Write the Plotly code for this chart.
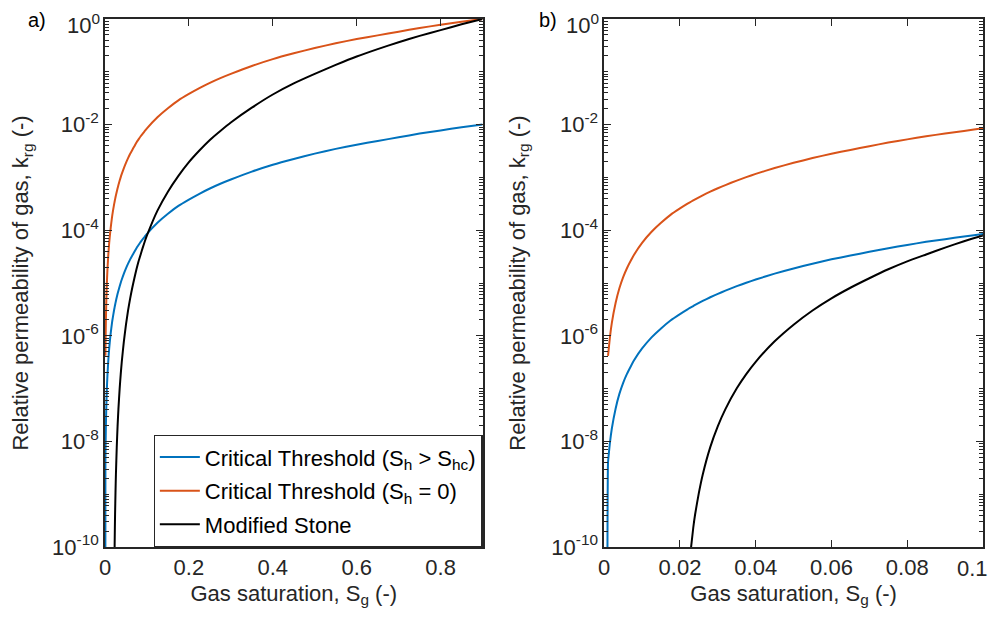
import plotly.graph_objects as go
from plotly.subplots import make_subplots

# Gas saturation samples (shared by both panels)
sg = [0.0008, 0.001, 0.0012, 0.0015, 0.002, 0.003, 0.004, 0.005, 0.006, 0.007, 0.008,
      0.01, 0.0125, 0.015, 0.0175, 0.02, 0.022, 0.0225, 0.0235, 0.024, 0.025, 0.026,
      0.028, 0.03, 0.032, 0.035, 0.0375, 0.04, 0.045, 0.05, 0.055, 0.06, 0.065, 0.07, 0.075,
      0.08, 0.085, 0.09, 0.095, 0.1, 0.125, 0.15, 0.175, 0.2, 0.225, 0.25, 0.275,
      0.3, 0.35, 0.4, 0.45, 0.5, 0.55, 0.6, 0.65, 0.7, 0.75, 0.8, 0.85, 0.9]

# log10(krg)
log_ct_shc = [-12.0, -8.40, -8.24, -8.03, -7.76, -7.38, -7.10, -6.89, -6.72, -6.58, -6.45,
              -6.24, -6.03, -5.86, -5.71, -5.588, -5.498, -5.477, -5.436, -5.416, -5.377, -5.340,
              -5.270, -5.205, -5.145, -5.060, -4.995, -4.934, -4.823, -4.724, -4.634, -4.552, -4.48, -4.41, -4.34,
              -4.28, -4.22, -4.17, -4.12, -4.07, -3.86, -3.69, -3.54, -3.42, -3.31, -3.21, -3.12,
              -3.04, -2.89, -2.76, -2.65, -2.55, -2.46, -2.38, -2.31, -2.24, -2.17, -2.11, -2.05, -2.00]
log_ct_0 = [None, -6.38, -6.24, -6.03, -5.76, -5.38, -5.10, -4.89, -4.72, -4.58, -4.45,
            -4.24, -4.03, -3.86, -3.71, -3.588, -3.498, -3.477, -3.436, -3.416, -3.377, -3.340,
            -3.270, -3.205, -3.145, -3.060, -2.995, -2.934, -2.823, -2.724, -2.634, -2.552, -2.48, -2.41, -2.34,
            -2.28, -2.22, -2.17, -2.12, -2.07, -1.86, -1.69, -1.54, -1.42, -1.31, -1.21, -1.12,
            -1.04, -0.89, -0.76, -0.65, -0.55, -0.46, -0.38, -0.31, -0.24, -0.17, -0.11, -0.05, 0.0]
log_stone = [None, None, None, None, None, None, None, None, None, None, None,
             None, None, None, None, None, -10.8, -10.30, -9.64, -9.38, -8.97, -8.63,
             -8.109, -7.711, -7.388, -6.995, -6.725, -6.492, -6.105, -5.79, -5.52, -5.29, -5.09, -4.91, -4.74,
             -4.59, -4.46, -4.33, -4.21, -4.10, -3.63, -3.27, -2.97, -2.71, -2.49, -2.29, -2.12,
             -1.96, -1.68, -1.43, -1.22, -1.04, -0.87, -0.71, -0.57, -0.44, -0.32, -0.21, -0.10, 0.0]

names = ["Critical Threshold (S<sub>h</sub> &gt; S<sub>hc</sub>)",
         "Critical Threshold (S<sub>h</sub> = 0)",
         "Modified Stone"]
colors = ["#0072BD", "#D95319", "#000000"]

xticks_a = [0, 0.2, 0.4, 0.6, 0.8]
xlabels_a = ["0", "0.2", "0.4", "0.6", "0.8"]
xticks_b = [0, 0.02, 0.04, 0.06, 0.08, 0.1]
xlabels_b = ["0", "0.02", "0.04", "0.06", "0.08", ""]   # last label drawn below, kept inside the page
last_xlabel_b = "0.1"
ytick_exp = [-10, -8, -6, -4, -2, 0]

def tolin(v):
    return [None if x is None else 10 ** x for x in v]

series = [tolin(log_ct_shc), tolin(log_ct_0), tolin(log_stone)]

FONT = "Liberation Sans, Arial, Helvetica, sans-serif"
FS = 22
AX = "#262626"

fig = make_subplots(rows=1, cols=2, horizontal_spacing=0.1386)
for col in (1, 2):
    for i in range(3):
        fig.add_trace(go.Scatter(x=sg, y=series[i], mode="lines", name=names[i],
                                 line=dict(color=colors[i], width=2, shape="spline", smoothing=0.5),
                                 legendgroup=str(i), showlegend=(col == 1)),
                      row=1, col=col)

minor_vals = [k * 10.0 ** d for d in range(-10, 0) for k in range(1, 10)
              if not (k == 1 and d % 2 == 0)]
major_vals = [10.0 ** e for e in ytick_exp]
major_text = ["10<sup>%d</sup>" % e if e != 0 else "" for e in ytick_exp]
top_label = "10<sup>%d</sup>" % ytick_exp[-1]

yax = dict(type="log", range=[-10, 0.00001], tickvals=major_vals, ticktext=major_text,
           ticks="inside", ticklen=7, tickwidth=1.3, tickcolor=AX,
           showline=True, linecolor=AX, linewidth=1.5, mirror="allticks",
           showgrid=False, zeroline=False, automargin=False, ticklabeloverflow="allow",
           tickfont=dict(family=FONT, size=FS, color=AX),
           minor=dict(tickvals=minor_vals, ticks="inside", ticklen=4, tickcolor=AX,
                      tickwidth=1, showgrid=False),
           title=dict(text="Relative permeability of gas, k<sub>rg</sub> (-)",
                      font=dict(family=FONT, size=FS, color=AX), standoff=20))
xbase = dict(ticks="inside", ticklen=7, tickwidth=1.3, tickcolor=AX,
             showline=True, linecolor=AX, linewidth=1.5, mirror="allticks",
             showgrid=False, zeroline=False, automargin=False, ticklabeloverflow="allow",
             tickfont=dict(family=FONT, size=FS, color=AX),
             title=dict(text="Gas saturation, S<sub>g</sub> (-)",
                        font=dict(family=FONT, size=FS, color=AX), standoff=6))

fig.update_xaxes(range=[0, 0.9], tickvals=xticks_a, ticktext=xlabels_a, **xbase, row=1, col=1)
fig.update_xaxes(range=[0, 0.10001], tickvals=xticks_b, ticktext=xlabels_b, **xbase, row=1, col=2)
fig.update_yaxes(**yax, row=1, col=1)
fig.update_yaxes(**yax, row=1, col=2)

lab_font = dict(family=FONT, size=FS, color=AX)
annotations = [
    dict(text="a)", x=-0.077, y=0.999, xref="paper", yref="paper", showarrow=False,
         xanchor="center", yanchor="middle", font=dict(family=FONT, size=20, color="#000000")),
    dict(text="b)", x=0.505, y=0.999, xref="paper", yref="paper", showarrow=False,
         xanchor="center", yanchor="middle", font=dict(family=FONT, size=20, color="#000000")),
    dict(text=last_xlabel_b, x=1, y=0, xref="x2 domain", yref="y2 domain", showarrow=False,
         xanchor="right", yanchor="middle", yshift=-21, xshift=7, font=lab_font),
]
for xr, yr in (("x domain", "y domain"), ("x2 domain", "y2 domain")):
    annotations.append(dict(text=top_label, x=0, y=1, xref=xr, yref=yr, showarrow=False,
                            xanchor="right", yanchor="middle", xshift=-3, yshift=-5,
                            font=lab_font))

fig.update_layout(
    width=988, height=615,
    margin=dict(l=97, r=13, t=11, b=76, autoexpand=False),
    paper_bgcolor="white", plot_bgcolor="white",
    font=dict(family=FONT, size=FS, color=AX),
    legend=dict(x=0.43, xanchor="right", y=0, yanchor="bottom",
                bgcolor="white", bordercolor=AX, borderwidth=1.3,
                font=dict(family=FONT, size=FS, color="#000000"),
                tracegroupgap=2, itemwidth=40),
    annotations=annotations,
)
fig.update_xaxes(domain=[0, 0.43], row=1, col=1)
fig.update_xaxes(domain=[0.5686, 1.0], row=1, col=2)

fig.write_html("out.html")
